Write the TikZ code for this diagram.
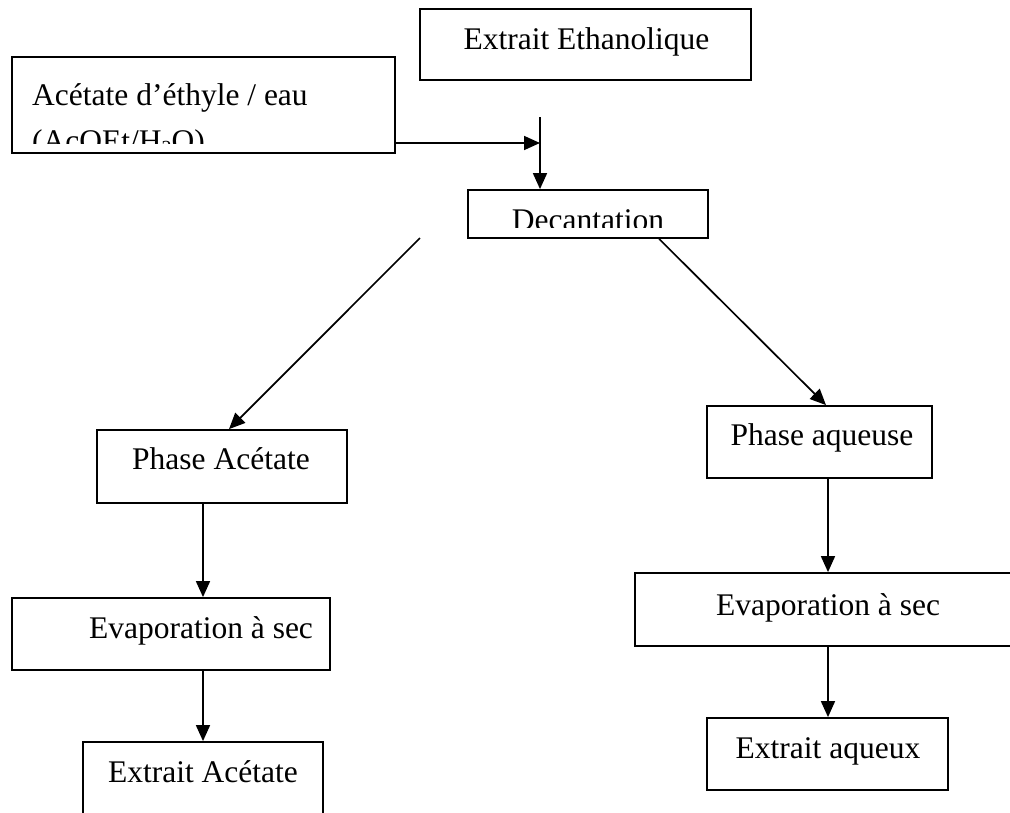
\documentclass[tikz,border=0pt]{standalone}
\usepackage{fontspec}
\setmainfont{Liberation Serif}
\usetikzlibrary{arrows.meta,calc}
\newcommand\fsz{\fontsize{31.5}{37}\selectfont}
\tikzset{
  box/.style={draw, line width=1.8pt, rectangle, inner sep=0pt},
  lbl/.style={font=\fsz, anchor=base, inner sep=0pt},
  arr/.style={-{Triangle[length=16pt,width=14pt]}, line width=1.7pt},
}
\begin{document}
\begin{tikzpicture}[x=1pt,y=-1pt]
\useasboundingbox (0,0) rectangle (1010,812);
\fill[white] (0,0) rectangle (1010,812);
% boxes
\node[box, minimum width=331pt, minimum height=71pt] (eth) at (585.5,44.5) {};
\node[box, minimum width=383pt, minimum height=96pt] (aco) at (203.5,105) {};
\node[box, minimum width=240pt, minimum height=48pt] (dec) at (588,214) {};
\node[box, minimum width=250pt, minimum height=73pt] (pac) at (222,466.5) {};
\node[box, minimum width=225pt, minimum height=72pt] (paq) at (819.5,442) {};
\node[box, minimum width=318pt, minimum height=72pt] (evl) at (171,634) {};
\node[box, minimum width=240pt, minimum height=88pt] (eac) at (203,786) {};
\node[box, minimum width=385pt, minimum height=73pt] (evr) at (827.5,609.5) {};
\node[box, minimum width=241pt, minimum height=72pt] (eaq) at (827.5,754) {};
% labels
\node[lbl] (teth) at (586.5,49) {Extrait Ethanolique};
\begin{scope}
\clip (14,59) rectangle (393,143);
\node[lbl, anchor=base west] (taco1) at (32,105) {Acétate d’éthyle / eau};
\node[lbl, anchor=base west] (taco2) at (32,151) {(AcOEt/H\raisebox{-0.25ex}{\fontsize{20}{24}\selectfont 2}O)};
\end{scope}
\begin{scope}
\clip (470,192) rectangle (706,227);
\node[lbl] (tdec) at (588,230) {Decantation};
\end{scope}
\node[lbl] (tpac) at (221,469) {Phase Acétate};
\node[lbl] (tpaq) at (822,445) {Phase aqueuse};
\node[lbl] (tevl) at (201,638) {Evaporation à sec};
\node[lbl] (teac) at (203,782) {Extrait Acétate};
\node[lbl] (tevr) at (828,615) {Evaporation à sec};
\node[lbl] (teaq) at (828,758) {Extrait aqueux};
% connectors
\coordinate (junc) at (540,143);
\coordinate (vtop) at (540,117);
\draw[arr] (aco.east |- junc) -- (junc);
\draw[arr] (vtop) -- (dec.north -| vtop);
\coordinate (ldstart) at (420,238);
\draw[arr] (ldstart) -- ($(pac.north)+(7,0)$);
\draw[arr] ($(dec.south west)+(192,0)$) -- ($(paq.north)+(6.5,0)$);
\coordinate (lx) at (203,0);
\coordinate (rx) at (828,0);
\draw[arr] (pac.south -| lx) -- (evl.north -| lx);
\draw[arr] (evl.south -| lx) -- (eac.north -| lx);
\draw[arr] (paq.south -| rx) -- (evr.north -| rx);
\draw[arr] (evr.south -| rx) -- (eaq.north -| rx);
\end{tikzpicture}
\end{document}
